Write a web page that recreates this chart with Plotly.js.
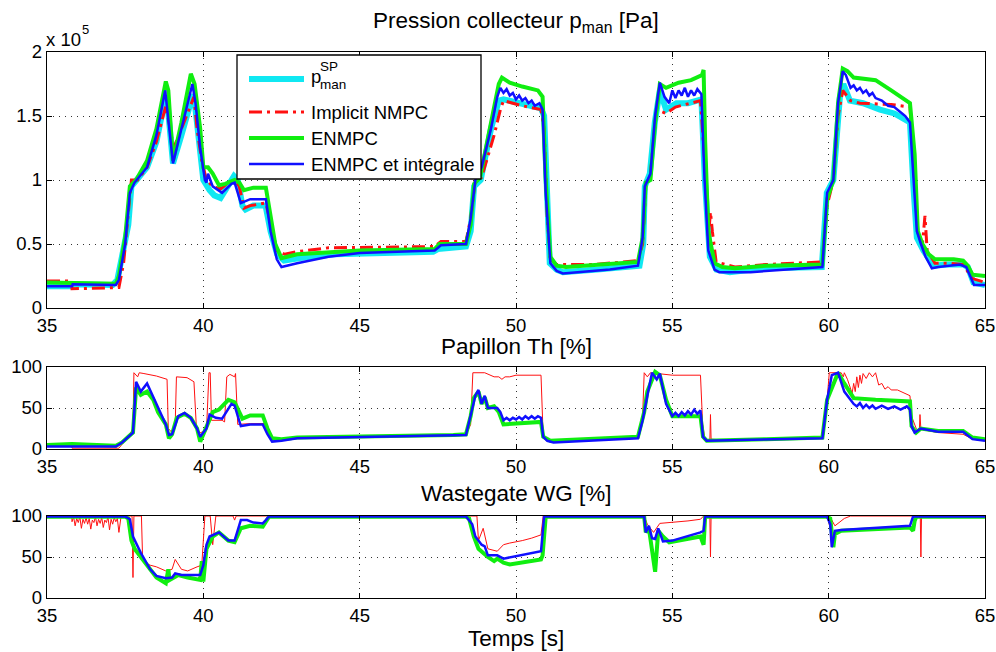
<!DOCTYPE html>
<html>
<head>
<meta charset="utf-8">
<script src="https://cdn.plot.ly/plotly-3.0.1.min.js"></script>
<style>html,body{margin:0;padding:0;background:#fff;}#chart{width:996px;height:652px;}</style>
</head>
<body>
<div id="chart"></div>
<script>
// ===== DATA (time [s], value) =====
// Top panel: manifold pressure, in units of 1e5 Pa
const pSetpoint = [[35,0.17],[35.8,0.17],[35.82,0.185],[37.1,0.18],[37.25,0.22],[37.45,0.45],[37.6,0.65],[37.7,0.95],[37.85,1.0],[38.2,1.1],[38.5,1.3],[38.8,1.66],[38.86,1.58],[39.03,1.13],[39.3,1.35],[39.67,1.67],[39.75,1.55],[39.9,1.2],[40.0,1.0],[40.2,0.92],[40.35,0.88],[40.55,0.86],[40.7,0.92],[40.98,1.03],[41.1,1.0],[41.25,0.8],[41.35,0.77],[41.6,0.8],[41.99,0.8],[42.15,0.6],[42.36,0.42],[42.58,0.37],[43.1,0.39],[44.2,0.42],[47.35,0.44],[47.5,0.46],[48.4,0.48],[48.55,0.6],[48.66,0.95],[48.87,1.0],[49.2,1.4],[49.45,1.62],[49.6,1.63],[50.2,1.6],[50.8,1.56],[50.9,1.5],[50.97,0.9],[51.08,0.35],[51.3,0.3],[51.5,0.28],[52.6,0.3],[53.95,0.33],[54.07,0.5],[54.12,0.95],[54.28,1.05],[54.44,1.45],[54.6,1.7],[54.8,1.55],[55.13,1.6],[55.5,1.6],[55.93,1.63],[56.04,1.0],[56.2,0.4],[56.41,0.3],[56.84,0.28],[57.9,0.31],[59.78,0.32],[59.94,0.9],[60.15,1.0],[60.36,1.65],[60.47,1.75],[60.68,1.62],[61.1,1.6],[61.64,1.55],[62.1,1.52],[62.6,1.45],[62.71,0.95],[62.82,0.55],[63.03,0.45],[63.35,0.33],[63.78,0.34],[64.3,0.34],[64.45,0.32],[64.63,0.2],[65,0.18]];
const pImplicit = [[35,0.21],[35.78,0.21],[35.8,0.15],[37.3,0.16],[37.45,0.35],[37.6,0.75],[37.7,1.0],[37.9,1.0],[38.2,1.1],[38.5,1.3],[38.8,1.58],[38.9,1.45],[39.05,1.25],[39.3,1.4],[39.7,1.65],[39.8,1.4],[39.95,1.15],[40.1,1.0],[40.3,0.95],[40.55,0.93],[40.75,0.97],[41.0,1.0],[41.15,0.95],[41.3,0.78],[41.5,0.8],[42.0,0.82],[42.15,0.65],[42.35,0.45],[42.6,0.42],[43.0,0.44],[44.0,0.47],[47.4,0.48],[47.6,0.52],[48.4,0.52],[48.55,0.7],[48.7,1.0],[48.9,1.02],[49.3,1.35],[49.5,1.55],[49.6,1.62],[50.2,1.58],[50.8,1.55],[50.9,1.4],[51.0,0.7],[51.1,0.38],[51.3,0.34],[52.5,0.34],[53.9,0.37],[54.05,0.5],[54.15,0.95],[54.3,1.05],[54.5,1.55],[54.8,1.52],[55.1,1.57],[55.9,1.62],[56.05,1.1],[56.15,0.55],[56.22,0.75],[56.28,0.6],[56.4,0.36],[57.0,0.32],[58.0,0.34],[59.8,0.36],[59.95,0.8],[60.15,1.0],[60.3,1.5],[60.45,1.7],[60.7,1.62],[61.0,1.6],[62.0,1.59],[62.6,1.57],[62.75,1.0],[62.85,0.6],[63.0,0.5],[63.08,0.72],[63.15,0.45],[63.4,0.35],[63.8,0.35],[64.3,0.34],[64.6,0.23],[65,0.2]];
const pENMPC = [[35,0.2],[37.2,0.19],[37.3,0.25],[37.5,0.55],[37.65,0.95],[37.85,1.0],[38.2,1.15],[38.5,1.4],[38.8,1.77],[38.88,1.7],[39.03,1.15],[39.3,1.45],[39.6,1.83],[39.72,1.75],[39.9,1.4],[40.0,1.1],[40.15,1.1],[40.3,1.05],[40.5,0.96],[40.7,0.97],[41.0,1.0],[41.15,0.98],[41.3,0.92],[41.6,0.94],[42.0,0.94],[42.12,0.75],[42.3,0.5],[42.5,0.39],[43.0,0.42],[45.0,0.45],[47.4,0.46],[47.55,0.5],[48.4,0.5],[48.55,0.65],[48.66,0.97],[48.85,1.02],[49.2,1.45],[49.45,1.75],[49.55,1.8],[49.8,1.76],[50.2,1.73],[50.7,1.7],[50.85,1.65],[50.95,1.0],[51.1,0.4],[51.3,0.33],[51.6,0.32],[53.0,0.34],[53.9,0.36],[54.05,0.55],[54.15,0.98],[54.3,1.0],[54.45,1.45],[54.6,1.75],[54.8,1.72],[55.2,1.76],[55.6,1.78],[55.95,1.82],[56.0,1.86],[56.05,1.3],[56.15,0.6],[56.35,0.35],[56.6,0.32],[57.0,0.31],[58.0,0.33],[59.8,0.34],[59.95,0.85],[60.15,1.0],[60.3,1.6],[60.45,1.87],[60.6,1.85],[60.8,1.8],[61.5,1.78],[62.0,1.7],[62.6,1.6],[62.75,1.2],[62.85,0.6],[63.0,0.5],[63.2,0.42],[63.4,0.38],[64.0,0.38],[64.3,0.37],[64.45,0.33],[64.6,0.26],[65,0.25]];
const pIntegral = [[35,0.17],[35.8,0.17],[35.82,0.185],[37.2,0.18],[37.3,0.22],[37.5,0.5],[37.65,0.9],[37.8,0.98],[38.2,1.1],[38.5,1.35],[38.78,1.7],[38.85,1.55],[39.03,1.13],[39.3,1.4],[39.65,1.75],[39.75,1.6],[39.9,1.25],[40.05,1.0],[40.1,0.98],[40.15,1.05],[40.3,0.95],[40.6,0.9],[40.9,0.97],[41.0,0.98],[41.2,0.82],[41.5,0.85],[42.0,0.85],[42.15,0.6],[42.35,0.38],[42.5,0.32],[43.0,0.35],[44.0,0.4],[45.0,0.43],[47.4,0.45],[47.6,0.49],[48.4,0.5],[48.55,0.7],[48.7,1.0],[48.9,1.1],[49.2,1.4],[49.4,1.65],[49.5,1.72],[49.6,1.68],[49.7,1.71],[49.8,1.66],[49.9,1.68],[50.0,1.63],[50.1,1.66],[50.2,1.62],[50.3,1.64],[50.4,1.6],[50.5,1.62],[50.6,1.58],[50.75,1.6],[50.85,1.55],[50.95,0.9],[51.1,0.35],[51.3,0.29],[51.5,0.27],[53.0,0.3],[53.9,0.33],[54.05,0.55],[54.12,0.95],[54.3,1.05],[54.45,1.5],[54.6,1.76],[54.75,1.65],[54.9,1.6],[55.0,1.7],[55.1,1.64],[55.2,1.7],[55.3,1.66],[55.4,1.72],[55.5,1.65],[55.6,1.7],[55.7,1.66],[55.8,1.71],[55.93,1.67],[56.03,1.0],[56.15,0.45],[56.35,0.3],[56.5,0.28],[57.5,0.28],[59.8,0.32],[59.95,0.9],[60.15,1.0],[60.3,1.6],[60.45,1.85],[60.55,1.82],[60.7,1.72],[60.8,1.74],[60.9,1.7],[61.0,1.72],[61.1,1.68],[61.2,1.7],[61.3,1.66],[61.4,1.68],[61.5,1.64],[61.7,1.62],[61.9,1.58],[62.1,1.57],[62.3,1.53],[62.45,1.5],[62.6,1.45],[62.72,1.0],[62.82,0.6],[62.95,0.5],[63.1,0.4],[63.3,0.31],[63.5,0.32],[64.2,0.34],[64.4,0.32],[64.65,0.18],[65,0.18]];

// Middle panel: throttle Th [%]
const thImplicit = [[35,5],[35.79,5],[35.8,1],[37.3,1],[37.45,8],[37.6,15],[37.75,25],[37.78,93],[37.9,88],[37.95,93],[38.1,92],[38.5,89],[38.84,85],[38.88,25],[39.0,20],[39.1,30],[39.14,88],[39.48,87],[39.7,82],[39.78,25],[39.9,20],[40.1,22],[40.18,93],[40.22,93],[40.26,35],[40.6,35],[40.68,33],[40.75,88],[40.85,91],[41.0,88],[41.03,92],[41.1,30],[41.5,31],[41.95,31],[42.1,14],[42.3,10],[43.0,13],[48.4,17],[48.55,30],[48.62,93],[49.0,93],[49.3,88],[49.45,88],[49.55,85],[49.65,88],[49.8,88],[50.0,90],[50.8,90],[50.87,15],[51.0,12],[51.2,10],[53.9,15],[54.05,40],[54.1,93],[54.2,88],[54.3,93],[55.0,90],[55.9,90],[55.97,30],[56.05,10],[56.2,10],[56.22,42],[56.24,12],[57.0,10],[59.8,14],[59.95,60],[60.02,93],[60.4,93],[60.47,88],[60.5,93],[60.6,85],[60.7,75],[60.75,68],[60.8,80],[60.85,70],[60.9,88],[60.95,75],[61.0,90],[61.05,80],[61.1,92],[61.2,86],[61.3,93],[61.4,88],[61.5,93],[61.55,85],[61.6,78],[61.7,80],[61.8,73],[61.9,76],[62.0,72],[62.2,72],[62.4,68],[62.6,65],[62.65,40],[62.8,25],[62.9,22],[62.92,42],[62.95,24],[63.5,20],[64.3,18],[64.6,12],[65,10]];
const thENMPC = [[35,5],[35.8,6],[37.2,4],[37.4,8],[37.6,15],[37.75,20],[37.85,75],[38.0,66],[38.2,70],[38.4,60],[38.55,45],[38.8,30],[38.9,13],[39.0,18],[39.15,38],[39.4,43],[39.6,38],[39.8,25],[39.9,9],[40.05,22],[40.2,38],[40.3,45],[40.5,48],[40.8,60],[41.0,57],[41.15,45],[41.25,37],[41.5,41],[41.9,41],[42.05,25],[42.2,13],[42.5,12],[43.0,14],[48.0,17],[48.4,18],[48.55,40],[48.65,62],[48.8,70],[48.9,55],[49.0,63],[49.1,50],[49.3,52],[49.45,45],[49.6,30],[50.0,31],[50.8,33],[50.87,15],[51.1,10],[53.9,15],[54.1,45],[54.2,70],[54.45,94],[54.6,90],[54.8,60],[55.0,40],[55.5,40],[55.9,40],[55.98,15],[56.1,10],[58.0,12],[59.8,14],[59.95,60],[60.1,75],[60.3,93],[60.5,80],[60.8,62],[61.5,60],[62.6,58],[62.65,28],[62.8,20],[62.95,25],[63.5,22],[64.3,22],[64.6,14],[65,12]];
const thIntegral = [[35,3],[37.2,3],[37.4,8],[37.6,15],[37.75,20],[37.85,82],[38.0,70],[38.2,80],[38.5,55],[38.8,30],[38.9,17],[39.0,18],[39.2,40],[39.4,44],[39.6,38],[39.8,25],[39.9,15],[40.1,25],[40.2,42],[40.4,38],[40.6,37],[40.9,55],[41.0,53],[41.2,28],[41.5,30],[41.9,30],[42.05,18],[42.2,9],[42.5,10],[43.0,13],[48.4,17],[48.55,40],[48.7,65],[48.8,72],[48.9,55],[49.0,65],[49.1,50],[49.4,50],[49.5,45],[49.6,35],[49.7,38],[49.8,35],[49.9,38],[50.0,36],[50.1,39],[50.2,36],[50.3,40],[50.4,37],[50.5,40],[50.6,37],[50.7,40],[50.8,38],[50.87,15],[51.0,10],[51.2,8],[53.9,13],[54.05,35],[54.2,65],[54.35,93],[54.5,85],[54.6,92],[54.8,55],[55.0,40],[55.1,44],[55.2,40],[55.3,45],[55.4,41],[55.5,46],[55.6,42],[55.7,48],[55.8,43],[55.9,47],[55.98,15],[56.1,10],[59.8,13],[59.95,60],[60.1,90],[60.3,93],[60.5,70],[60.8,55],[60.9,52],[61.0,56],[61.1,50],[61.2,54],[61.3,50],[61.4,53],[61.5,49],[61.7,53],[61.9,49],[62.1,52],[62.3,48],[62.5,52],[62.6,48],[62.65,28],[62.75,20],[62.95,25],[63.5,21],[64.3,21],[64.6,12],[65,10]];

// Bottom panel: wastegate WG [%]
const wgImplicit = [[35,100],[35.79,100],[35.8,93],[35.85,99],[35.9,88],[35.95,97],[36.0,92],[36.05,99],[36.1,85],[36.15,96],[36.2,91],[36.25,98],[36.3,90],[36.35,97],[36.4,84],[36.45,95],[36.5,92],[36.55,99],[36.6,88],[36.65,96],[36.7,91],[36.75,98],[36.8,86],[36.85,95],[36.9,92],[36.95,99],[37.0,83],[37.05,96],[37.1,90],[37.15,98],[37.2,93],[37.25,97],[37.3,80],[37.35,99],[37.37,100],[37.72,100],[37.75,25],[37.78,100],[38.02,100],[38.06,45],[38.3,40],[38.5,38],[38.8,33],[39.0,35],[39.1,47],[39.3,35],[39.5,33],[39.8,38],[39.95,40],[40.05,100],[40.22,100],[40.3,65],[40.4,100],[40.95,100],[41.0,95],[41.05,100],[48.75,100],[48.8,70],[48.95,85],[49.1,60],[49.3,58],[49.4,57],[49.6,65],[49.8,67],[50.2,70],[50.5,73],[50.8,77],[50.87,100],[54.1,100],[54.2,90],[54.3,85],[54.4,80],[54.6,91],[55.0,92],[55.5,94],[55.9,96],[56.0,100],[56.2,100],[56.22,50],[56.24,100],[59.95,100],[60.05,85],[60.1,95],[60.2,88],[60.5,97],[60.7,100],[62.93,100],[62.95,50],[62.97,100],[65,100]];
const wgENMPC = [[35,99],[37.5,99],[37.6,97],[37.7,70],[37.8,60],[38.2,40],[38.5,25],[38.8,18],[38.88,35],[38.92,22],[39.2,28],[39.5,25],[39.9,22],[39.95,45],[40.0,20],[40.1,60],[40.3,75],[40.5,80],[40.8,70],[41.0,68],[41.2,85],[41.5,88],[41.9,87],[42.0,93],[42.1,99],[48.4,99],[48.5,97],[48.65,75],[48.8,60],[49.1,50],[49.3,45],[49.4,48],[49.6,43],[49.8,41],[50.8,47],[50.85,52],[50.95,99],[54.1,99],[54.15,80],[54.25,85],[54.35,55],[54.45,32],[54.55,82],[54.7,75],[54.9,68],[55.5,72],[55.9,75],[56.0,65],[56.05,99],[59.95,99],[60.05,97],[60.1,80],[60.15,62],[60.2,78],[60.4,82],[62.6,86],[62.7,82],[62.75,94],[62.8,99],[65,99]];
const wgIntegral = [[35,99.5],[37.5,99.5],[37.65,96],[37.75,75],[38.0,55],[38.3,35],[38.5,27],[38.8,24],[39.0,25],[39.1,30],[39.3,28],[39.6,28],[39.9,28],[40.0,40],[40.1,65],[40.2,75],[40.5,80],[40.8,70],[41.0,70],[41.2,95],[41.4,95],[41.6,92],[41.9,91],[42.0,95],[42.1,99.5],[48.4,99.5],[48.6,90],[48.7,75],[48.9,65],[49.0,63],[49.1,52],[49.4,52],[49.6,48],[50.8,57],[50.9,99.5],[54.1,99.5],[54.15,80],[54.25,88],[54.35,73],[54.45,72],[54.55,85],[54.7,69],[55.0,70],[55.9,80],[56.0,82],[56.05,99.5],[59.95,99.5],[60.05,90],[60.1,62],[60.2,82],[60.4,83],[62.6,88],[62.7,99.5],[65,99.5]];

const xTicks = [35,40,45,50,55,60,65];
const pTicks = [0,0.5,1,1.5,2];
const pctTicks = [0,50,100];

// ===== STYLE =====
const FONT = 'Liberation Sans, Arial, Helvetica, sans-serif';
const FS = 18.5;      // tick labels & legend
const FT = 22.5;      // titles / axis label
const CYAN = '#10e8f2', RED = '#ff1010', GREEN = '#10ee10', BLUE = '#1010ff';
const DASHDOT = '13px,5px,3px,5px';

function tr(pairs, xa, ya, color, width, dash){
  return {x: pairs.map(p=>p[0]), y: pairs.map(p=>p[1]), xaxis: xa, yaxis: ya,
    type:'scatter', mode:'lines', showlegend:false, hoverinfo:'skip',
    line:{color: color, width: width, dash: dash || 'solid'}};
}

const traces = [
  tr(pSetpoint,'x','y',CYAN,6),
  tr(pImplicit,'x','y',RED,3,DASHDOT),
  tr(pENMPC,'x','y',GREEN,4),
  tr(pIntegral,'x','y',BLUE,2.5),
  tr(thImplicit,'x2','y2',RED,1),
  tr(thENMPC,'x2','y2',GREEN,4),
  tr(thIntegral,'x2','y2',BLUE,2.5),
  tr(wgImplicit,'x3','y3',RED,1),
  tr(wgENMPC,'x3','y3',GREEN,4),
  tr(wgIntegral,'x3','y3',BLUE,2.5)
];

function axisBase(){
  return {ticks:'inside', ticklen:5, tickcolor:'#000', showline:true, linecolor:'#000', linewidth:1.3,
    mirror:'allticks', showgrid:true, gridcolor:'#333', gridwidth:1, griddash:'1px,5px', zeroline:false,
    tickfont:{family:FONT,size:FS,color:'#000'}, fixedrange:true};
}
function xax(anchor){
  return Object.assign(axisBase(), {anchor: anchor, domain:[0,1], range:[35,65], tickvals:xTicks});
}
function yax(anchor, dom, range, tv){
  return Object.assign(axisBase(), {anchor: anchor, domain: dom, range: range, tickvals: tv});
}

// pixel helpers for decorations (plot area: x 47..985, y 52..598)
const L=47, R=11, T=52, B=54, W=996, H=652;
const px = v => (v - L)/(W-L-R);
const py = v => (H-B - v)/(H-T-B);

const legendRows = [79,112,138,164];
const legendStyles = [[CYAN,6,'solid'],[RED,3,DASHDOT],[GREEN,4,'solid'],[BLUE,2.5,'solid']];
const shapes = [{type:'rect', xref:'paper', yref:'paper', x0:px(237), x1:px(481), y0:py(179), y1:py(55),
  fillcolor:'#fff', line:{color:'#000', width:1.3}, layer:'above'}];
legendRows.forEach((r,i)=>{
  shapes.push({type:'line', xref:'paper', yref:'paper', x0:px(249), x1:px(304), y0:py(r), y1:py(r),
    line:{color:legendStyles[i][0], width:legendStyles[i][1], dash:legendStyles[i][2]}, layer:'above'});
});

const ann = (text, x, y, xa, ya, size, align) => ({text:text, xref:'paper', yref:'paper', x:x, y:y,
  xanchor:xa, yanchor:ya, showarrow:false, align: align || 'center', borderpad:0,
  font:{family:FONT, size:size, color:'#000'}});

const annotations = [
  ann('Pression collecteur p<sub>man</sub> [Pa]', px(516), py(22), 'center', 'middle', FT),
  ann('x 10', px(45), py(39), 'left', 'middle', FS),
  ann('5', px(81), py(30), 'left', 'middle', 13),
  ann('Papillon Th [%]', px(516), py(346), 'center', 'middle', FT),
  ann('Wastegate WG [%]', px(516), py(493), 'center', 'middle', FT),
  ann('Temps [s]', px(516), py(638), 'center', 'middle', FT),
  ann('p', px(310), py(77), 'left', 'middle', FS),
  ann('SP<br>man', px(318.5), py(76), 'left', 'middle', 13.5, 'left'),
  ann('Implicit NMPC', px(310), py(112), 'left', 'middle', FS),
  ann('ENMPC', px(310), py(138), 'left', 'middle', FS),
  ann('ENMPC et intégrale', px(310), py(164), 'left', 'middle', FS)
];

const layout = {
  width: W, height: H, margin:{l:L, r:R, t:T, b:B},
  paper_bgcolor:'#fff', plot_bgcolor:'#fff', showlegend:false,
  font:{family:FONT, size:FS, color:'#000'},
  xaxis: xax('y'), yaxis: yax('x', [py(308), 1], [0,2], pTicks),
  xaxis2: xax('y2'), yaxis2: yax('x2', [py(449), py(367)], [0,100], pctTicks),
  xaxis3: xax('y3'), yaxis3: yax('x3', [0, py(516)], [0,100], pctTicks),
  shapes: shapes, annotations: annotations
};

Plotly.newPlot('chart', traces, layout, {staticPlot:true, displayModeBar:false});
</script>
</body>
</html>
